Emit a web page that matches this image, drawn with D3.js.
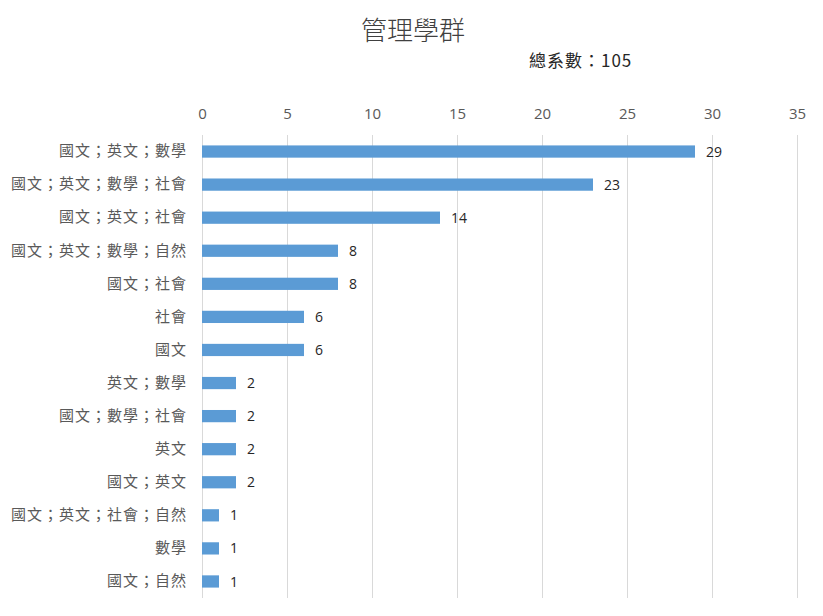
<!DOCTYPE html>
<html><head><meta charset="utf-8">
<script src="https://cdn.jsdelivr.net/npm/d3@7/dist/d3.min.js"></script>
<style>body{margin:0;background:#fff;} text{font-family:"Noto Sans CJK TC","Noto Sans",sans-serif;}</style>
</head><body><svg id="c" width="823" height="616"></svg>
<script>
const categories = ["國文；英文；數學","國文；英文；數學；社會","國文；英文；社會","國文；英文；數學；自然","國文；社會","社會","國文","英文；數學","國文；數學；社會","英文","國文；英文","國文；英文；社會；自然","數學","國文；自然"];
const values = [29,23,14,8,8,6,6,2,2,2,2,1,1,1];
const tickValues = [0,5,10,15,20,25,30,35];
const title = "管理學群";
const subtitle = "總系數：105";

(function(){
const svg = d3.select("#c");
const pl = 202, pr = 797, pt = 135, pb = 598;
const x = d3.scaleLinear().domain([0,35]).range([pl,pr]);
const y = d3.scaleBand().domain(categories).range([pt,pb]).paddingInner(0.63).paddingOuter(0.315);

svg.append("g").selectAll("line").data(tickValues).join("line")
  .attr("x1",d=>x(d)).attr("x2",d=>x(d)).attr("y1",pt).attr("y2",pb)
  .attr("stroke","#d9d9d9").attr("stroke-width",1).attr("shape-rendering","crispEdges");

const xAxis = svg.append("g").attr("transform",`translate(0,${pt})`)
  .call(d3.axisTop(x).tickValues(tickValues).tickSize(0).tickPadding(16));
xAxis.select(".domain").remove();
xAxis.selectAll("text").attr("fill","#595959").style("font-size","15px").style("font-family","'Open Sans','Noto Sans',sans-serif");

const yAxis = svg.append("g").attr("transform",`translate(${pl},0)`)
  .call(d3.axisLeft(y).tickSize(0).tickPadding(16));
yAxis.select(".domain").remove();
yAxis.selectAll("text").attr("fill","#595959").style("font-size","15px").style("letter-spacing","1px").attr("dx","1px");

svg.append("g").selectAll("rect").data(values).join("rect")
  .attr("x",x(0)).attr("y",(d,i)=>y(categories[i]))
  .attr("width",d=>x(d)-x(0)).attr("height",y.bandwidth())
  .attr("fill","#5b9bd5");

svg.append("g").selectAll("text").data(values).join("text")
  .attr("x",d=>x(d)+11).attr("y",(d,i)=>y(categories[i])+y.bandwidth()/2)
  .attr("dy","0.36em").text(d=>d)
  .attr("fill","#262626").style("font-size","14px").style("font-family","'Open Sans','Noto Sans',sans-serif");

svg.append("text").attr("x",413).attr("y",40).attr("text-anchor","middle")
  .text(title).attr("fill","#404040").style("font-size","26px").style("font-weight","300");
svg.append("text").attr("x",529).attr("y",67)
  .text(subtitle).attr("fill","#262626").style("font-size","17px").style("letter-spacing","1px");
})();
</script></body></html>
